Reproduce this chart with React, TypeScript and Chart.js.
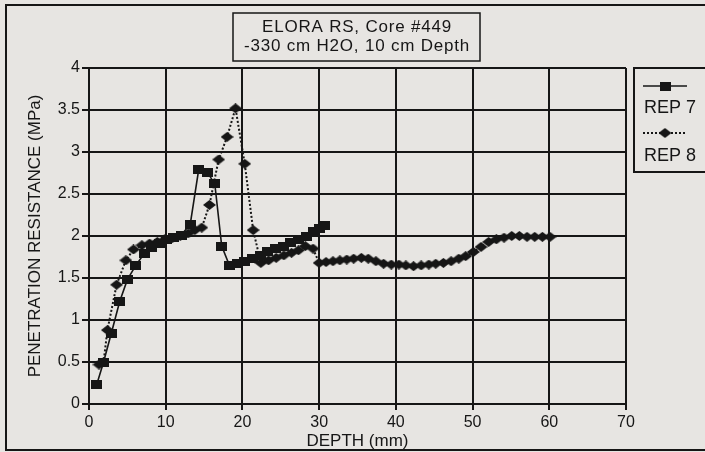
import React, { useEffect, useRef } from "react";
import { Chart, registerables } from "chart.js";

Chart.register(...registerables);

// ---- data ----
const rep7Depth = [1.0, 1.9, 2.9, 4.0, 5.0, 6.1, 7.2, 8.2, 9.2, 10.1, 11.0, 12.0, 13.2, 14.3, 15.4, 16.4, 17.3, 18.3, 19.3, 20.3, 21.3, 22.3, 23.3, 24.3, 25.3, 26.3, 27.3, 28.3, 29.2, 30.0, 30.7];
const rep7Resistance = [0.23, 0.5, 0.84, 1.22, 1.48, 1.65, 1.79, 1.86, 1.91, 1.96, 1.98, 2.01, 2.14, 2.79, 2.76, 2.62, 1.88, 1.65, 1.67, 1.7, 1.73, 1.77, 1.81, 1.85, 1.88, 1.92, 1.96, 2.0, 2.05, 2.09, 2.12];

const rep8Depth = [1.3, 1.9, 2.4, 3.6, 4.8, 5.8, 6.9, 7.9, 8.9, 9.9, 10.9, 11.9, 12.9, 13.8, 14.7, 15.7, 16.9, 18.0, 19.1, 20.3, 21.4, 22.4, 23.4, 24.4, 25.4, 26.4, 27.3, 28.2, 29.2, 30.0, 30.9, 31.8, 32.7, 33.6, 34.5, 35.5, 36.4, 37.4, 38.4, 39.4, 40.4, 41.3, 42.3, 43.3, 44.3, 45.2, 46.2, 47.2, 48.2, 49.1, 50.1, 51.1, 52.1, 53.1, 54.1, 55.1, 56.1, 57.1, 58.1, 59.1, 60.1];
const rep8Resistance = [0.47, 0.5, 0.88, 1.42, 1.71, 1.84, 1.89, 1.91, 1.93, 1.96, 1.98, 2.0, 2.03, 2.07, 2.1, 2.37, 2.91, 3.18, 3.52, 2.86, 2.07, 1.68, 1.71, 1.74, 1.77, 1.8, 1.83, 1.88, 1.85, 1.68, 1.69, 1.7, 1.71, 1.72, 1.73, 1.74, 1.73, 1.7, 1.67, 1.66, 1.66, 1.65, 1.64, 1.65, 1.66, 1.67, 1.68, 1.7, 1.73, 1.76, 1.81, 1.87, 1.93, 1.96, 1.98, 2.0, 2.0, 1.99, 1.99, 1.99, 1.99];

const seriesNames = ["REP 7", "REP 8"];
const titleLines = ["ELORA RS, Core #449", "-330 cm H2O, 10 cm Depth"];
const xAxisTitle = "DEPTH (mm)";
const yAxisTitle = "PENETRATION RESISTANCE (MPa)";
const xMin = 0, xMax = 70, xStep = 10;
const yMin = 0, yMax = 4, yStep = 0.5;

// ---- styles ----
const INK = "#161616";
const BG = "#e7e5e2";
const FONT = "'Liberation Sans', Arial, Helvetica, sans-serif";

function makeMarker(kind: "square" | "diamond"): HTMLCanvasElement {
  const c = document.createElement("canvas");
  const w = kind === "square" ? 11 : 13;
  const h = kind === "square" ? 9 : 10;
  c.width = w;
  c.height = h;
  const g = c.getContext("2d")!;
  g.fillStyle = INK;
  if (kind === "square") {
    g.fillRect(0, 0, w, h);
  } else {
    g.beginPath();
    g.moveTo(w / 2, 0);
    g.lineTo(w, h / 2);
    g.lineTo(w / 2, h);
    g.lineTo(0, h / 2);
    g.closePath();
    g.fill();
  }
  return c;
}

export default function App() {
  const ref = useRef<HTMLCanvasElement | null>(null);

  useEffect(() => {
    const canvas = ref.current;
    if (!canvas) return;
    const square = makeMarker("square");
    const diamond = makeMarker("diamond");

    const decor = {
      id: "decor",
      beforeDraw(chart: any) {
        const ctx = chart.ctx as CanvasRenderingContext2D;
        ctx.save();
        ctx.fillStyle = BG;
        ctx.fillRect(0, 0, chart.width, chart.height);
        ctx.strokeStyle = INK;
        ctx.lineWidth = 2;
        ctx.strokeRect(6, 5, 720, 445);
        ctx.restore();
      },
      afterDraw(chart: any) {
        const ctx = chart.ctx as CanvasRenderingContext2D;
        ctx.save();
        // title box
        ctx.strokeStyle = INK;
        ctx.lineWidth = 1.5;
        ctx.strokeRect(233, 13, 247, 48);
        ctx.fillStyle = INK;
        ctx.font = `17px ${FONT}`;
        (ctx as any).letterSpacing = "0.8px";
        ctx.textAlign = "center";
        ctx.textBaseline = "middle";
        ctx.fillText(titleLines[0], 357, 27);
        ctx.fillText(titleLines[1], 357, 46);
        (ctx as any).letterSpacing = "0px";

        // legend box
        ctx.lineWidth = 2;
        ctx.strokeRect(634, 68, 90, 104);
        // REP 7 sample
        ctx.lineWidth = 1.5;
        ctx.setLineDash([]);
        ctx.beginPath();
        ctx.moveTo(643, 86);
        ctx.lineTo(687, 86);
        ctx.stroke();
        ctx.drawImage(square, 665 - square.width / 2, 86 - square.height / 2);
        // REP 8 sample
        ctx.lineWidth = 2;
        ctx.setLineDash([2, 2]);
        ctx.beginPath();
        ctx.moveTo(643, 133);
        ctx.lineTo(687, 133);
        ctx.stroke();
        ctx.setLineDash([]);
        ctx.drawImage(diamond, 665 - diamond.width / 2, 133 - diamond.height / 2);
        ctx.font = `18px ${FONT}`;
        ctx.textAlign = "left";
        ctx.fillText(seriesNames[0], 644, 108);
        ctx.fillText(seriesNames[1], 644, 156);
        ctx.restore();
      },
    };

    const chart = new Chart(canvas, {
      type: "line",
      data: {
        datasets: [
          {
            label: seriesNames[0],
            data: rep7Depth.map((x, i) => ({ x, y: rep7Resistance[i] })),
            borderColor: INK,
            backgroundColor: INK,
            borderWidth: 1.6,
            pointStyle: square as any,
            pointRadius: 5,
            tension: 0,
          },
          {
            label: seriesNames[1],
            data: rep8Depth.map((x, i) => ({ x, y: rep8Resistance[i] })),
            borderColor: INK,
            backgroundColor: INK,
            borderWidth: 2,
            borderDash: [2, 2],
            pointStyle: diamond as any,
            pointRadius: 5,
            tension: 0,
          },
        ],
      },
      options: {
        responsive: false,
        animation: false,
        devicePixelRatio: 1,
        layout: { padding: { top: 68, right: 79, left: 0, bottom: 0 } },
        plugins: {
          legend: { display: false },
          title: { display: false },
          tooltip: { enabled: false },
        },
        scales: {
          x: {
            type: "linear",
            min: xMin,
            max: xMax,
            ticks: {
              stepSize: xStep,
              color: INK,
              font: { family: FONT, size: 16 },
              padding: 3,
              maxRotation: 0,
              callback: (v: any) => String(v),
            },
            grid: { color: INK, lineWidth: 2, tickLength: 6 },
            border: { color: INK, width: 2 },
            title: {
              display: true,
              text: xAxisTitle,
              color: INK,
              font: { family: FONT, size: 17 },
              padding: { top: 0, bottom: 0 },
            },
            afterFit: (s: any) => {
              s.height = 48;
            },
          },
          y: {
            type: "linear",
            min: yMin,
            max: yMax,
            ticks: {
              stepSize: yStep,
              color: INK,
              font: { family: FONT, size: 16 },
              padding: 2,
              callback: (v: any) => String(v),
            },
            grid: { color: INK, lineWidth: 2, tickLength: 7 },
            border: { color: INK, width: 2 },
            title: {
              display: true,
              text: yAxisTitle,
              color: INK,
              font: { family: FONT, size: 17 },
              padding: { top: 25, bottom: 0 },
            },
            afterFit: (s: any) => {
              s.width = 89;
            },
          },
        },
      },
      plugins: [decor],
    });

    return () => chart.destroy();
  }, []);

  return (
    <div style={{ position: "absolute", left: 0, top: 0, width: 705, height: 452, overflow: "hidden", background: BG }}>
      <canvas ref={ref} width={705} height={452} style={{ display: "block", width: 705, height: 452 }} />
    </div>
  );
}
